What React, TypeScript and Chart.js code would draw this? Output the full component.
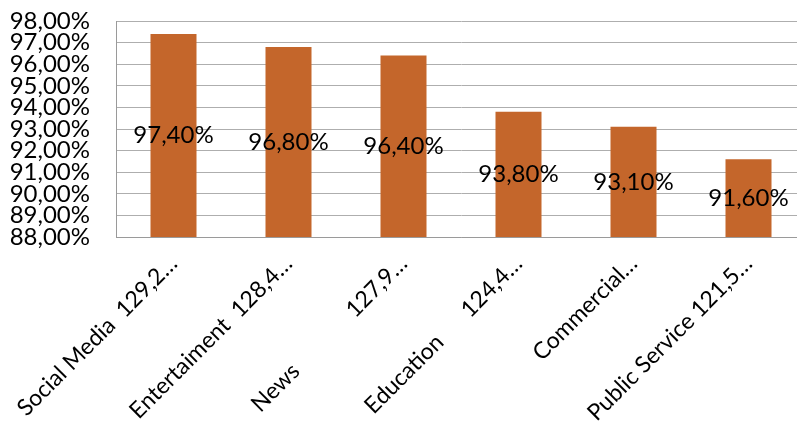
import React, { useEffect, useRef } from "react";
import { Chart, registerables } from "chart.js";

Chart.register(...registerables);

const categories: string[] = [
  "Social Media  129,2…",
  "Entertaiment  128,4…",
  "News             127,9…",
  "Education      124,4…",
  "Commercial…",
  "Public Service 121,5…",
];
const values: number[] = [97.4, 96.8, 96.4, 93.8, 93.1, 91.6];
const yMin = 88;
const yMax = 98;
const yStep = 1;

const FONT = "Lato, 'Open Sans', sans-serif";
const fmt = (v: number) => v.toFixed(2).replace(".", ",") + "%";

const barLabelPlugin = {
  id: "barLabels",
  afterDraw(chart: any) {
    const ctx = chart.ctx;
    const xs = chart.scales.x;
    const ys = chart.scales.y;
    ctx.save();
    ctx.font = `24px ${FONT}`;
    ctx.fillStyle = "#000000";
    ctx.textAlign = "center";
    ctx.textBaseline = "middle";
    values.forEach((v, i) => {
      const x = xs.getPixelForValue(i);
      const y = (ys.getPixelForValue(v) + ys.getPixelForValue(yMin)) / 2;
      ctx.fillText(fmt(v), x, y);
    });
    ctx.restore();
  },
};

export default function App() {
  const ref = useRef<HTMLCanvasElement | null>(null);
  useEffect(() => {
    document.body.style.margin = "0";
    document.body.style.overflow = "hidden";
    if (!ref.current) return;
    const chart = new Chart(ref.current, {
      type: "bar",
      data: {
        labels: categories,
        datasets: [
          {
            data: values,
            backgroundColor: "#C4662B",
            borderWidth: 0,
            barPercentage: 0.4,
            categoryPercentage: 1,
          },
        ],
      },
      options: {
        animation: false,
        responsive: false,
        maintainAspectRatio: false,
        layout: { padding: { left: 0, top: 21, right: 0, bottom: 0 } },
        plugins: {
          legend: { display: false },
          tooltip: { enabled: false },
        },
        scales: {
          x: {
            grid: { display: false, drawTicks: false },
            border: { display: true, color: "#9A9A9A", width: 1 },
            ticks: {
              autoSkip: false,
              minRotation: 45,
              maxRotation: 45,
              color: "#000000",
              font: { family: FONT, size: 23 },
              padding: 13,
            },
            afterFit: (s: any) => {
              s.height = 186;
              s.paddingLeft = 0;
              s.paddingRight = 0;
            },
          },
          y: {
            min: yMin,
            max: yMax,
            grid: { color: "#AEAEAE", drawTicks: false },
            border: { display: true, color: "#9A9A9A", width: 1 },
            ticks: {
              stepSize: yStep,
              autoSkip: false,
              color: "#000000",
              font: { family: FONT, size: 24, lineHeight: 1 },
              padding: 26,
              callback: (v: any) => fmt(Number(v)),
            },
            afterFit: (s: any) => {
              s.width = 116;
              s.paddingTop = 0;
              s.paddingBottom = 0;
            },
          },
        },
      },
      plugins: [barLabelPlugin],
    });
    return () => chart.destroy();
  }, []);
  return (
    <div style={{ width: 797, height: 423, overflow: "hidden" }}>
      <canvas ref={ref} width={806} height={423} style={{ display: "block" }} />
    </div>
  );
}
